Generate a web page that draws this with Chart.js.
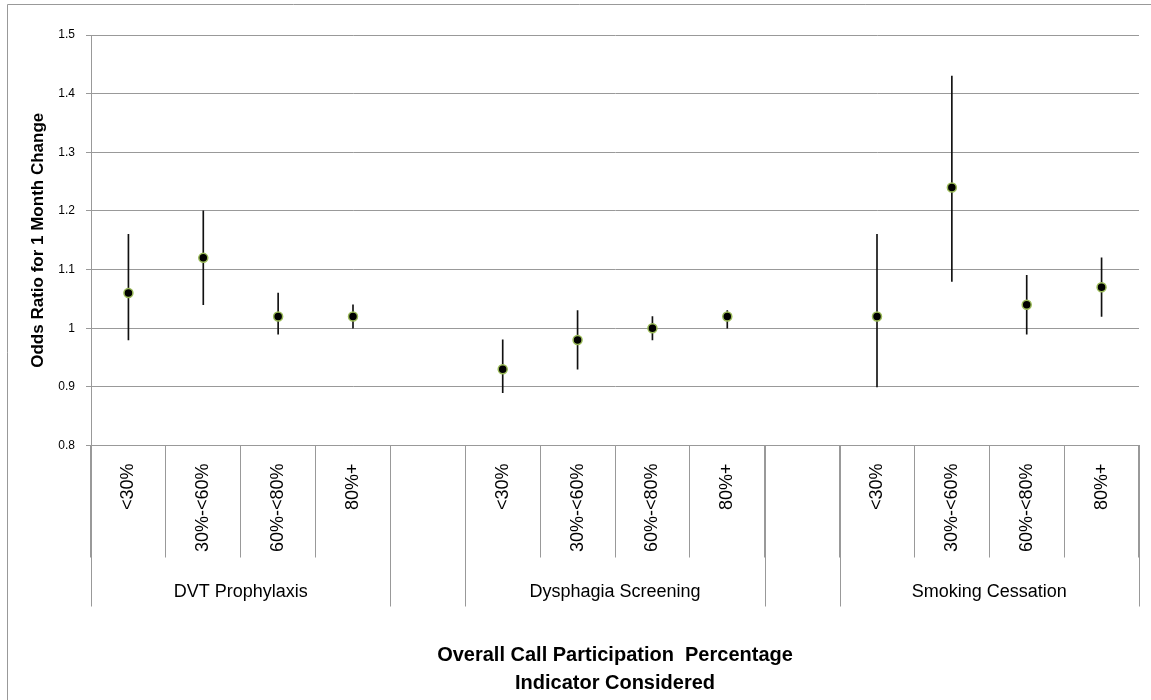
<!DOCTYPE html>
<html>
<head>
<meta charset="utf-8">
<script src="https://cdn.jsdelivr.net/npm/chart.js@4"></script>
<style>
  html, body { margin: 0; padding: 0; background: #fff; }
  #wrap { width: 1151px; height: 700px; position: relative; }
</style>
</head>
<body>
<div id="wrap"><canvas id="chart"></canvas></div>
<script>
const LEVELS = ['<30%', '30%-<60%', '60%-<80%', '80%+']
const GROUPS = ['DVT Prophylaxis', 'Dysphagia Screening', 'Smoking Cessation']

// one slot per level, with an empty slot between indicators
const ODDS  = [1.06, 1.12, 1.02, 1.02, null, 0.93, 0.98, 1.00, 1.02, null, 1.02, 1.24, 1.04, 1.07]
const LOWER = [0.98, 1.04, 0.99, 1.00, null, 0.89, 0.93, 0.98, 1.00, null, 0.90, 1.08, 0.99, 1.02]
const UPPER = [1.16, 1.20, 1.06, 1.04, null, 0.98, 1.03, 1.02, 1.03, null, 1.16, 1.43, 1.09, 1.12]

const Y_MIN  = 0.8
const Y_MAX  = 1.5
const Y_STEP = 0.1

const X_TITLE = ['Overall Call Participation  Percentage', 'Indicator Considered']
const Y_TITLE = 'Odds Ratio for 1 Month Change'

const GRID = '#999999'
const FONT = "'Liberation Sans', Arial, sans-serif"

Chart.defaults.font.family = FONT
Chart.defaults.color = '#000'

const labels = []
GROUPS.forEach((g, i) => {
  if (i > 0) labels.push('')
  LEVELS.forEach(l => labels.push(l))
})

const ranges = LOWER.map((lo, i) => lo === null ? null : [lo, UPPER[i]])

// outer level of the category axis: group names and long separators
const groupAxis = {
  id: 'groupAxis',
  afterDraw(chart) {
    const { ctx, chartArea } = chart
    const x = chart.scales.x
    const slot = x.getPixelForValue(1) - x.getPixelForValue(0)
    const top = chartArea.bottom

    ctx.save()
    ctx.strokeStyle = GRID
    ctx.lineWidth = 1

    GROUPS.forEach((name, g) => {
      const first = g * (LEVELS.length + 1)
      const last  = first + LEVELS.length - 1
      const left  = x.getPixelForValue(first) - slot / 2
      const right = x.getPixelForValue(last) + slot / 2

      ;[left, right].forEach(px => {
        const p = Math.round(px) + 0.5
        ctx.beginPath()
        ctx.moveTo(p, top)
        ctx.lineTo(p, top + 161)
        ctx.stroke()
      })

      ctx.fillStyle = '#000'
      ctx.font = `18px ${FONT}`
      ctx.textAlign = 'center'
      ctx.textBaseline = 'middle'
      ctx.fillText(name, (left + right) / 2, top + 147)
    })

    // chart frame (right and bottom edges are outside the picture)
    ctx.beginPath()
    ctx.moveTo(7.5, chart.height + 2)
    ctx.lineTo(7.5, 4.5)
    ctx.lineTo(chart.width + 2, 4.5)
    ctx.stroke()
    ctx.restore()
  }
}

new Chart(document.getElementById('chart'), {
  data: {
    labels,
    datasets: [
      {
        type: 'line',
        label: 'Odds ratio',
        data: ODDS,
        showLine: false,
        pointRadius: 4.5,
        pointBackgroundColor: '#000',
        pointBorderColor: '#9bbb59',
        pointBorderWidth: 1.5,
        order: 0
      },
      {
        type: 'bar',
        label: 'Range',
        data: ranges,
        backgroundColor: '#111',
        barThickness: 1,
        order: 1
      }
    ]
  },
  plugins: [groupAxis],
  options: {
    responsive: true,
    maintainAspectRatio: false,
    animation: false,
    layout: { padding: { top: 35, right: 12, left: 0, bottom: 0 } },
    plugins: {
      legend: { display: false },
      tooltip: { enabled: false }
    },
    scales: {
      x: {
        type: 'category',
        offset: true,
        grid: { drawOnChartArea: false, tickLength: 112, color: GRID },
        border: { color: GRID },
        ticks: {
          autoSkip: false,
          minRotation: 90,
          maxRotation: 90,
          padding: -94,
          color: '#000',
          font: { size: 18 }
        },
        title: {
          display: true,
          text: X_TITLE,
          color: '#000',
          font: { size: 20, weight: 'bold', lineHeight: 1.4 },
          padding: { top: 0, bottom: 3 }
        },
        afterFit: s => { s.height = 254.5; s.paddingLeft = 0; s.paddingRight = 0 }
      },
      y: {
        min: Y_MIN,
        max: Y_MAX,
        grid: { color: GRID, tickLength: 5 },
        border: { color: GRID },
        ticks: {
          stepSize: Y_STEP,
          padding: 11,
          color: '#000',
          font: { size: 12 },
          callback: v => String(+v.toFixed(1))
        },
        title: {
          display: true,
          text: Y_TITLE,
          color: '#000',
          font: { size: 17, weight: 'bold', lineHeight: 1.2 },
          padding: { top: 28, bottom: 0 }
        },
        afterFit: s => { s.width = 91; s.paddingTop = 0; s.paddingBottom = 0 }
      }
    }
  }
})
</script>
</body>
</html>
